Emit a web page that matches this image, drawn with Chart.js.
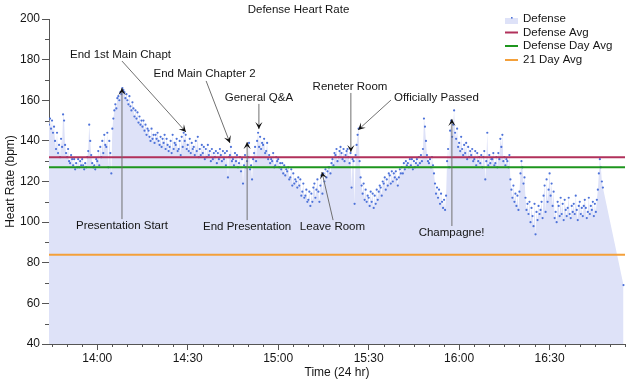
<!DOCTYPE html>
<html><head><meta charset="utf-8">
<script src="https://cdn.jsdelivr.net/npm/chart.js@4.4.0/dist/chart.umd.min.js"></script>
<style>html,body{margin:0;padding:0;background:#fff}#wrap{width:640px;height:384px}</style>
</head><body><div id="wrap"><canvas id="c" width="640" height="384"></canvas></div>
<script>
// ---- data ----
const chartTitle = "Defense Heart Rate";
const xTitle = "Time (24 hr)";
const yTitle = "Heart Rate (bpm)";
const xRange = ["13:44", "16:55"];
const yRange = [40, 200];
const xTickTimes = ["14:00", "14:30", "15:00", "15:30", "16:00", "16:30"];
const yTickValues = [40, 60, 80, 100, 120, 140, 160, 180, 200];
const hrLabel = "Defense";
const hrStart = "13:44";
const hrStepSeconds = 20;
const hrValues = [
 148,151,146, 150,144,147, 140,136,144, 134,138,132, 141,137,153, 150,138,134,
 132,136,130, 129,133,131, 128,131,126, 129,127,131, 127,130,128, 131,128,126,
 129,127,132, 135,148,140, 133,129,127, 128,126,131,
 130,135,128, 137,132,140, 134,143,138, 137,144,127, 140,134,124, 146,151,155,
 158,156,161, 162,160,164, 163,166,165, 164,161,163, 160,158,162, 157,155,159,
 156,152,155, 151,154,149, 152,148,150, 147,150,145, 148,143,146, 145,142,140,
 146,141,143, 139,143,141, 144,140,138, 142,137,141, 139,143,136, 141,138,135,
 137,140,134, 143,136,139, 138,141,135, 136,140,133, 142,137,144, 140,143,136,
 138,135,141, 134,139,136, 137,133,140, 135,142,132, 136,133,138, 134,137,131,
 136,132,138, 133,135,130, 136,131,134, 132,135,129, 134,131,136, 133,130,135,
 131,134,128, 135,122,132, 133,137,130, 131,128,134, 130,133,127, 129,132,125,
 131,119,128, 133,127,130, 132,139,126, 128,121,131, 134,137,130, 140,144,137,
 142,136,139, 138,141,134, 135,139,131, 133,129,131, 130,134,127, 128,132,130,
 131,127,129, 126,129,124, 128,123,126, 125,127,121, 122,126,118, 124,119,121,
 120,117,122, 118,121,113, 115,119,112, 113,116,110, 111,115,108, 114,110,117,
 119,112,116, 121,115,110, 118,123,114, 124,120,126, 122,125,127, 127,124,129,
 131,128,134, 133,136,130, 132,135,137, 134,131,136, 130,133,135, 136,132,129,
 134,117,131, 130,109,133, 138,143,146, 130,122,118, 114,119,111, 116,110,113,
 112,108,115, 110,114,107, 113,109,116, 111,115,118, 117,113,120, 119,122,116,
 121,118,124, 123,119,125, 120,124,122, 125,121,118, 122,126,124, 127,124,129,
 126,130,128, 129,127,131, 128,131,126, 130,127,129, 131,128,132, 129,133,130,
 136,151,147, 140,133,130, 129,131,127, 132,128,124, 119,114,117, 112,116,109,
 114,110,107, 111,106,113, 130,136,127, 145,150,142, 148,155,144, 141,146,137,
 139,135,142, 136,133,138, 134,139,131, 137,132,135, 133,136,130, 131,135,128,
 134,130,132, 129,133,127, 132,135,121, 130,144,128, 133,129,131, 131,134,128,
 129,132,127, 134,131,141, 137,143,130, 132,128,131, 130,127,133, 121,116,112,
 118,110,114, 108,113,106, 115,124,130, 127,119,122, 112,106,109, 104,110,100,
 107,103,98, 109,94,105, 101,108,104, 106,110,102, 113,118,105, 121,110,116,
 124,113,119, 108,115,102, 105,100,110, 108,103,112, 104,109,101, 111,106,103,
 107,112,104, 102,108,105, 109,104,113, 106,101,108, 110,104,107, 103,108,111,
 107,102,105, 112,104,108, 106,110,103, 109,105,111, 116,124,131, 127,120,117
];
const hrLast = { time: "16:54.5", value: 69 };
const avgLabels = ["Defense Avg", "Defense Day Avg", "21 Day Avg"];
const avgValues = [132, 127, 84];
const notes = [
 { text: "End 1st Main Chapt",  at: ["14:07.7", 182.3], from: ["14:08.2", 179.3], to: ["14:29.4", 144.4] },
 { text: "End Main Chapter 2",  at: ["14:35.6", 172.9], from: ["14:36.1", 169.5], to: ["14:44.0", 139.0] },
 { text: "General Q&A",         at: ["14:53.6", 161.1], from: ["14:53.6", 158.2], to: ["14:53.6", 145.8] },
 { text: "Reneter Room",        at: ["15:23.8", 166.5], from: ["15:24.1", 163.6], to: ["15:24.1", 134.5] },
 { text: "Officially Passed",   at: ["15:52.5", 161.1], from: ["15:37.4", 160.1], to: ["15:26.5", 145.4] },
 { text: "Presentation Start",  at: ["14:08.2", 98.1],  from: ["14:08.2", 101.5], to: ["14:08.2", 166.0] },
 { text: "End Presentation",    at: ["14:49.7", 97.6],  from: ["14:49.7", 101.0], to: ["14:49.7", 139.4] },
 { text: "Leave Room",          at: ["15:18.0", 97.6],  from: ["15:18.2", 101.0], to: ["15:14.5", 124.7] },
 { text: "Champagne!",          at: ["15:57.5", 94.6],  from: ["15:57.6", 98.1],  to: ["15:57.6", 150.8] }
];

// ---- styles ----
const FONT = "'Liberation Sans', Arial, Helvetica, sans-serif";
const TXT = '#151515';
const AXIS = '#555';
const FILL = 'rgb(222,226,248)';
const DOT = '#4d72d9';
const avgColors = ['#b1315b', '#1e961e', '#f4a03a'];

function toMin(s) { const p = s.split(':'); return parseInt(p[0], 10) * 60 + parseFloat(p[1]); }
function fmt(m) { const h = Math.floor(m / 60), mm = Math.round(m - h * 60); return h + ':' + String(mm).padStart(2, '0'); }

const x0 = toMin(xRange[0]), x1 = toMin(xRange[1]);
const startMin = toMin(hrStart);
const hrPoints = hrValues.map((v, i) => ({ x: startMin + i * hrStepSeconds / 60, y: v }));
hrPoints.push({ x: toMin(hrLast.time), y: hrLast.value });

const datasets = avgValues.map((v, i) => ({
  label: avgLabels[i],
  data: [{ x: x0, y: v }, { x: x1, y: v }],
  showLine: true,
  borderColor: avgColors[i], borderWidth: 2, pointRadius: 0, pointHoverRadius: 0, fill: false, order: i + 1
}));
datasets.push({
  label: hrLabel, data: hrPoints, order: 10,
  showLine: true, borderWidth: 0, borderColor: 'rgba(0,0,0,0)',
  backgroundColor: FILL, fill: 'start', tension: 0,
  pointRadius: 1.1, pointBackgroundColor: DOT, pointBorderWidth: 0, pointHoverRadius: 1.1
});

const extras = {
  id: 'extras',
  afterDatasetsDraw(chart) {
    const ctx = chart.ctx, xs = chart.scales.x, ys = chart.scales.y;
    const px = t => xs.getPixelForValue(toMin(t));
    const py = v => ys.getPixelForValue(v);
    ctx.save();
    notes.forEach(n => {
      const ax = px(n.from[0]), ay = py(n.from[1]), bx = px(n.to[0]), by = py(n.to[1]);
      ctx.strokeStyle = '#707070'; ctx.lineWidth = 1;
      ctx.beginPath(); ctx.moveTo(ax, ay); ctx.lineTo(bx, by); ctx.stroke();
      const a = Math.atan2(by - ay, bx - ax), L = 7, W = 3.6;
      ctx.save(); ctx.translate(bx, by); ctx.rotate(a);
      ctx.fillStyle = '#111';
      ctx.beginPath(); ctx.moveTo(0, 0); ctx.lineTo(-L, -W); ctx.lineTo(-L * 0.55, 0); ctx.lineTo(-L, W); ctx.closePath(); ctx.fill();
      ctx.restore();
      ctx.fillStyle = TXT; ctx.font = '11.5px ' + FONT; ctx.textAlign = 'center'; ctx.textBaseline = 'middle';
      ctx.fillText(n.text, px(n.at[0]), py(n.at[1]));
    });
    ctx.restore();
  },
  afterDraw(chart) {
    const ctx = chart.ctx, xs = chart.scales.x, ys = chart.scales.y, a = chart.chartArea;
    ctx.save();
    // minor ticks
    ctx.strokeStyle = AXIS; ctx.lineWidth = 1;
    for (let v = yRange[0] + 10; v < yRange[1]; v += 20) {
      const y = Math.round(ys.getPixelForValue(v)) + 0.5;
      ctx.beginPath(); ctx.moveTo(a.left - 4, y); ctx.lineTo(a.left, y); ctx.stroke();
    }
    for (let m = Math.ceil(x0 / 5) * 5; m <= x1; m += 5) {
      if (m % 30 === 0) continue;
      const x = Math.round(xs.getPixelForValue(m)) + 0.5;
      ctx.beginPath(); ctx.moveTo(x, a.bottom); ctx.lineTo(x, a.bottom + 3); ctx.stroke();
    }
    // title
    ctx.fillStyle = TXT; ctx.textAlign = 'center'; ctx.textBaseline = 'middle';
    ctx.font = '11.5px ' + FONT;
    ctx.fillText(chartTitle, 298.5, 10);
    // axis titles
    ctx.font = '12px ' + FONT;
    ctx.fillText(xTitle, (a.left + a.right) / 2, 372.5);
    ctx.save(); ctx.translate(11, (a.top + a.bottom) / 2); ctx.rotate(-Math.PI / 2);
    ctx.fillText(yTitle, 0, 0); ctx.restore();
    // legend
    const lx = 505, tx = 523, rows = [19, 32.5, 46, 60];
    ctx.textAlign = 'left'; ctx.font = '11.5px ' + FONT;
    ctx.fillStyle = FILL; ctx.fillRect(lx, rows[0] - 1, 13, 6);
    ctx.fillStyle = DOT; ctx.fillRect(511, rows[0] - 2, 1.6, 1.6);
    ctx.fillStyle = TXT; ctx.fillText(hrLabel, tx, rows[0]);
    avgLabels.forEach((l, i) => {
      ctx.strokeStyle = avgColors[i]; ctx.lineWidth = 2;
      ctx.beginPath(); ctx.moveTo(lx, rows[i + 1]); ctx.lineTo(lx + 13, rows[i + 1]); ctx.stroke();
      ctx.fillStyle = TXT; ctx.fillText(l, tx, rows[i + 1]);
    });
    ctx.restore();
  }
};

new Chart(document.getElementById('c'), {
  type: 'scatter',
  data: { datasets },
  options: {
    responsive: false, animation: false, devicePixelRatio: 1,
    layout: { padding: { top: 19, right: 15, left: 0, bottom: 0 } },
    plugins: { legend: { display: false }, tooltip: { enabled: false }, title: { display: false } },
    scales: {
      x: {
        type: 'linear', min: x0, max: x1,
        afterBuildTicks: s => { s.ticks = xTickTimes.map(t => ({ value: toMin(t) })); },
        afterFit: s => { s.height = 40; },
        grid: { drawOnChartArea: false, tickLength: 6, color: AXIS, tickColor: AXIS },
        border: { color: AXIS, width: 1 },
        ticks: { callback: v => fmt(v), font: { family: FONT, size: 12 }, color: TXT, padding: 1, maxRotation: 0, autoSkip: false }
      },
      y: {
        type: 'linear', min: yRange[0], max: yRange[1],
        afterBuildTicks: s => { s.ticks = yTickValues.map(v => ({ value: v })); },
        afterFit: s => { s.width = 49; },
        grid: { drawOnChartArea: false, tickLength: 7, color: AXIS, tickColor: AXIS },
        border: { color: AXIS, width: 1 },
        ticks: { font: { family: FONT, size: 12 }, color: TXT, padding: 2 }
      }
    }
  },
  plugins: [extras]
});
</script></body></html>
